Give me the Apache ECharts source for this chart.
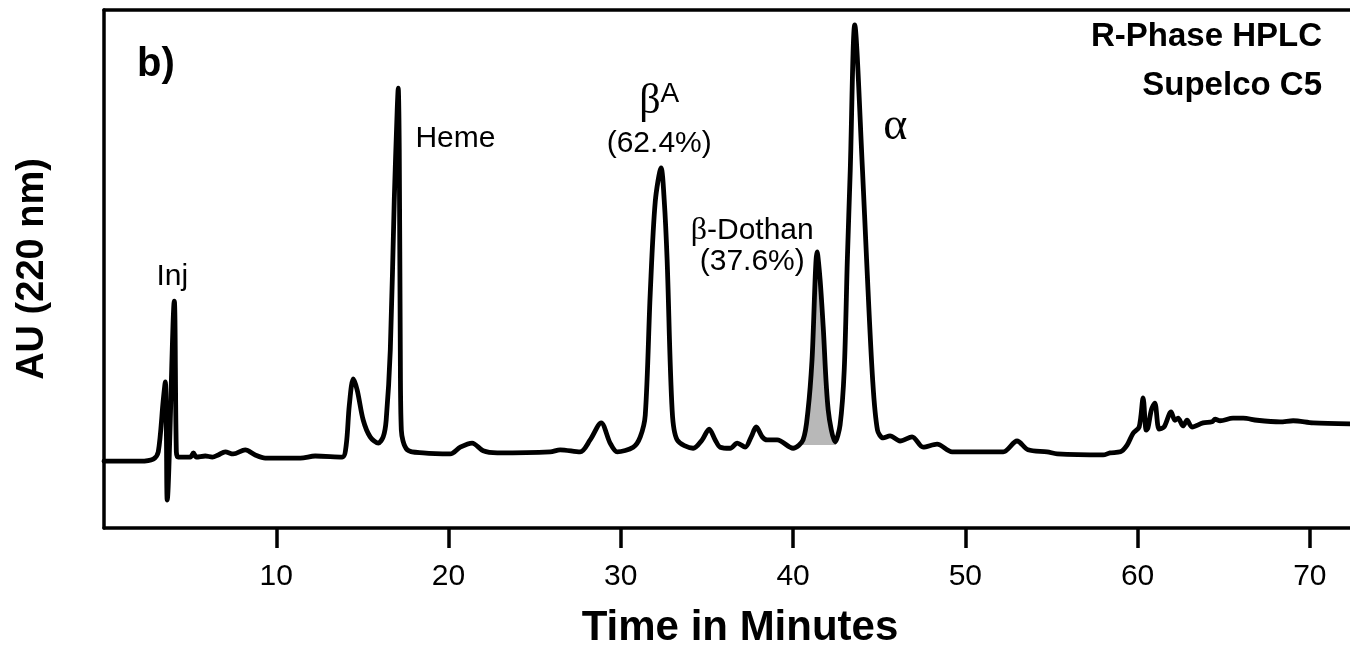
<!DOCTYPE html>
<html>
<head>
<meta charset="utf-8">
<script src="https://cdn.jsdelivr.net/npm/echarts@6/dist/echarts.min.js"></script>
<style>
  html, body { margin: 0; padding: 0; background: #fff; }
  #container { width: 1350px; height: 649px; }
</style>
</head>
<body>
<div id="container"></div>
<script>
// chromatogram trace, [time (min), AU (arbitrary, 0..100 of the frame)]
var trace = [
    [0, 12.9], [2.1, 12.9], [2.86, 13.3], [3.15, 14.7], [3.44, 24.7], [3.56, 28.2], [3.62, 18.9], [3.67, 5.4],
    [4.08, 43.8], [4.2, 14.7], [4.31, 13.7], [5.01, 13.7], [5.19, 14.5], [5.36, 13.7], [5.88, 13.9], [6.29, 13.7],
    [6.63, 14.1], [7.04, 14.7], [7.5, 14.3], [8.2, 15.1], [8.78, 14.1], [9.36, 13.5], [11.4, 13.5], [12.26, 13.9],
    [13.83, 13.7], [14.06, 16.0], [14.24, 23.7], [14.47, 28.8], [14.7, 26.6], [15.05, 20.8], [15.45, 17.6], [15.92, 16.4],
    [16.21, 17.6], [16.38, 20.8], [16.62, 34.4], [16.85, 63.3], [17.02, 80.7], [17.08, 84.9], [17.14, 73.0], [17.2, 34.4],
    [17.26, 18.9], [17.6, 15.1], [18.53, 14.5], [20.1, 14.3], [20.68, 15.6], [21.37, 16.4], [22.01, 14.9], [22.83, 14.5],
    [25.9, 14.7], [26.48, 15.1], [27.64, 14.7], [28.22, 17.0], [28.86, 20.3], [29.38, 16.4], [29.79, 14.7], [30.72, 15.6],
    [31.13, 17.6], [31.42, 21.8], [31.71, 45.4], [32.0, 63.0], [32.34, 69.5], [32.52, 63.3], [32.69, 51.7], [32.98, 22.8],
    [33.27, 17.0], [34.2, 15.4], [34.72, 17.0], [35.13, 19.1], [35.48, 17.0], [35.77, 15.6], [36.35, 15.4], [36.76, 16.4],
    [37.22, 15.6], [37.57, 17.6], [37.86, 19.5], [38.21, 17.6], [38.5, 17.0], [39.08, 17.0], [40.0, 15.4], [40.58, 17.0],
    [40.87, 22.8], [41.1, 32.4], [41.4, 53.3], [41.57, 47.9], [41.75, 38.8], [42.04, 22.8], [42.45, 16.6], [42.73, 19.9],
    [42.97, 30.5], [43.15, 51.7], [43.32, 69.1], [43.58, 97.1], [44.03, 69.1], [44.27, 51.7], [44.62, 28.6], [44.9, 18.9],
    [45.23, 17.4], [45.63, 17.8], [46.21, 16.8], [46.91, 17.6], [47.55, 15.6], [48.36, 16.2], [49.23, 14.7], [52.2, 14.7],
    [53.0, 16.8], [53.64, 15.1], [54.75, 14.7], [55.33, 14.3], [58.0, 14.1], [58.4, 14.5], [59.0, 14.7], [59.39, 16.0],
    [59.74, 18.3], [60.09, 19.5], [60.32, 25.1], [60.5, 18.9], [60.6, 19.3], [60.8, 22.8], [61.0, 24.1], [61.25, 19.1],
    [61.54, 19.5], [61.94, 22.4], [62.17, 20.8], [62.35, 21.2], [62.64, 19.7], [62.87, 20.8], [63.16, 19.5], [63.8, 20.3],
    [64.32, 20.5], [64.5, 21.0], [64.79, 20.7], [65.54, 21.2], [66.13, 21.2], [66.94, 20.8], [68.27, 20.5], [69.03, 20.7],
    [70.19, 20.3], [72.33, 20.1]
];

// shaded beta-Dothan peak (time window + integration baseline)
var dothanWindow = [40.5, 42.5];
var dothanBaseline = 16.0;

var tickValues = [10, 20, 30, 40, 50, 60, 70];

// peak annotations
var peakNames = ['Inj', 'Heme', '{bA|β}{sup|A}\n(62.4%)', '{bD|β}{dt|-Dothan}\n{dt|(37.6%)}', '{al|α}'];
var peakAnchors = [[3.96, 48.6], [20.4, 75.1], [32.23, 78.4], [37.63, 54.4], [45.93, 77.4]];

var methodLines = ['R-Phase HPLC', 'Supelco C5'];

var dom = document.getElementById('container');
var myChart = echarts.init(dom, null, { renderer: 'canvas' });

var labelData = peakAnchors.map(function (p, i) {
    return { value: p, name: peakNames[i] };
});

var shadeData = trace.filter(function (p) {
    return p[0] >= dothanWindow[0] && p[0] <= dothanWindow[1];
});

var frameLine = { show: true, onZero: false, lineStyle: { color: '#000', width: 3.5 } };

var option = {
    animation: false,
    title: {
        text: 'b)',
        left: 132,
        top: 40,
        textStyle: { fontFamily: 'Liberation Sans', fontWeight: 'bold', fontSize: 40, color: '#000' }
    },
    graphic: methodLines.map(function (line, i) {
        return {
            type: 'text',
            right: 28,
            top: 12 + i * 49,
            style: {
                text: line,
                fontFamily: 'Liberation Sans',
                fontWeight: 'bold',
                fontSize: 33,
                lineHeight: 49,
                fill: '#000'
            }
        };
    }),
    grid: {
        left: 104,
        right: 0,
        top: 10,
        bottom: 121,
        outerBoundsMode: 'none'
    },
    xAxis: [
        {
            type: 'value',
            position: 'bottom',
            min: 0,
            max: 72.33,
            interval: 10,
            name: 'Time in Minutes',
            nameLocation: 'middle',
            nameGap: 79,
            nameTextStyle: { fontFamily: 'Liberation Sans', fontWeight: 'bold', fontSize: 42, color: '#000', padding: [0, 0, 0, 26] },
            axisLine: frameLine,
            axisTick: { show: true, length: 20, lineStyle: { color: '#000', width: 3.5 }, customValues: tickValues },
            axisLabel: { fontFamily: 'Liberation Sans', fontSize: 30, color: '#000', margin: 34, customValues: tickValues },
            splitLine: { show: false }
        },
        {
            type: 'value',
            position: 'top',
            min: 0,
            max: 72.33,
            axisLine: frameLine,
            axisTick: { show: false },
            axisLabel: { show: false },
            splitLine: { show: false }
        }
    ],
    yAxis: {
        type: 'value',
        min: 0,
        max: 100,
        name: 'AU (220 nm)',
        nameLocation: 'middle',
        nameGap: 52,
        nameTextStyle: { fontFamily: 'Liberation Sans', fontWeight: 'bold', fontSize: 38, color: '#000' },
        axisLine: frameLine,
        axisTick: { show: false },
        axisLabel: { show: false },
        splitLine: { show: false }
    },
    series: [
        {
            name: 'dothan',
            type: 'line',
            data: shadeData,
            smooth: 0.3,
            symbol: 'none',
            lineStyle: { width: 0 },
            areaStyle: { color: '#b8b8b8', opacity: 1, origin: dothanBaseline },
            z: 1
        },
        {
            name: 'trace',
            type: 'line',
            data: trace,
            smooth: 0.3,
            symbol: 'none',
            lineStyle: { color: '#000', width: 4.8, join: 'round', cap: 'round' },
            z: 3
        },
        {
            name: 'labels',
            type: 'scatter',
            data: labelData,
            symbolSize: 0,
            itemStyle: { opacity: 1 },
            z: 4,
            label: {
                show: true,
                position: [0, 0],
                align: 'center',
                verticalAlign: 'middle',
                fontFamily: 'Liberation Sans',
                fontSize: 30,
                lineHeight: 40,
                color: '#000',
                opacity: 1,
                formatter: function (p) { return p.name; },
                rich: {
                    bA: { fontFamily: 'Liberation Serif', fontSize: 42, lineHeight: 44, color: '#000' },
                    sup: { fontFamily: 'Liberation Sans', fontSize: 28, lineHeight: 28, verticalAlign: 'top', color: '#000' },
                    bD: { fontFamily: 'Liberation Serif', fontSize: 32, lineHeight: 31, color: '#000' },
                    dt: { fontFamily: 'Liberation Sans', fontSize: 30, lineHeight: 31, color: '#000' },
                    al: { fontFamily: 'Liberation Serif', fontSize: 46, lineHeight: 46, color: '#000' }
                }
            }
        }
    ]
};

myChart.setOption(option);
window.addEventListener('resize', myChart.resize);
</script>
</body>
</html>
